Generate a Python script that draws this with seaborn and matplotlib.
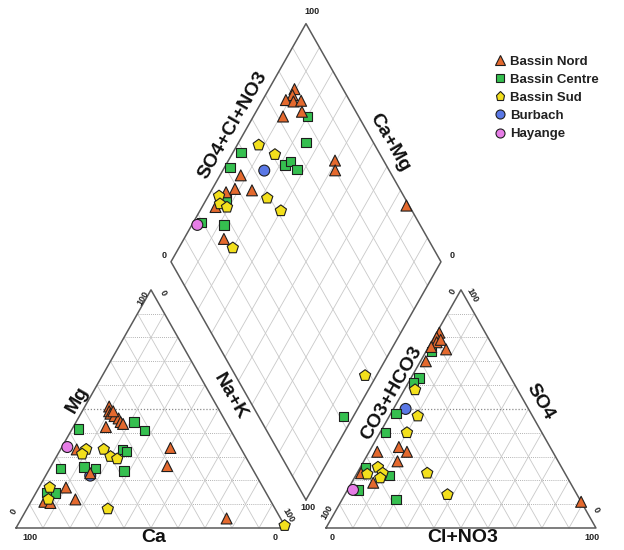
import numpy as np
import pandas as pd
import matplotlib
matplotlib.use("Agg")
import matplotlib.pyplot as plt
import seaborn as sns
from matplotlib.lines import Line2D

# ---------------- data (percent) ----------------
groups = ["Bassin Nord", "Bassin Centre", "Bassin Sud", "Burbach", "Hayange"]

# cation triangle: Ca and Mg (Na+K = 100 - Ca - Mg)
cat_group = (["Bassin Nord"] * 18 + ["Bassin Centre"] * 11 + ["Bassin Sud"] * 9
             + ["Burbach"] + ["Hayange"])
cat_ca = [40, 41, 41, 40, 39, 39, 38.5, 45.5, 39.5, 26, 31, 73, 72, 84, 82, 20, 61, 61,
          34, 32, 56, 44, 43, 71, 62, 58, 48, 81, 78,
          57.5, 60, 51, 50, 48, 79, 82, 62, 0,
          61.5,
          64]
cat_mg = [51, 49, 48, 47, 46, 44.5, 43.7, 42.4, 49, 33.6, 26, 17, 12, 11, 10.5, 4, 23, 33,
          44.5, 41, 41.5, 33, 32, 25, 25.6, 25, 24, 15, 14.7,
          33, 31, 33, 30, 29, 17, 12, 8, 1,
          22,
          34]

# anion triangle: Cl+NO3 and SO4 (CO3+HCO3 = 100 - Cl - SO4)
an_group = (["Bassin Nord"] * 14 + ["Bassin Centre"] * 9 + ["Bassin Sud"] * 9
            + ["Burbach"] + ["Hayange"])
an_cl = [1, 1, 2, 1, 7, 2, 3, 3, 10, 14, 12.5, 1.5, 8, 89,
         2, 3, 2, 2, 2, 2, 12.5, 4, 20,
         4, 10.5, 10, 6.5, 4, 9.5, 9.6, 26, 38,
         4.5,
         2]
an_so4 = [82, 80, 78, 76, 75, 70, 79, 32, 34, 32, 28, 23, 19, 11,
          74, 63, 61, 48, 40, 25.5, 22, 16, 12,
          58, 47, 40, 25.5, 22.6, 23, 21, 23, 14,
          50,
          16]

# diamond: SO4+Cl+NO3 and Ca+Mg
dia_group = (["Bassin Nord"] * 16 + ["Bassin Centre"] * 11 + ["Bassin Sud"] * 9
             + ["Burbach"] + ["Hayange"])
dia_anion = [82, 80, 76.5, 79, 82, 80, 72, 82, 80, 99, 44, 39, 45, 35, 28, 24.4,
             81, 75, 49, 41.6, 62.6, 65.4, 66, 33.5, 27.4, 19.6, 31.5,
             57, 61, 49, 51.4, 31.6, 30.3, 32.2, 25.8, 48,
             53.7,
             17.5]
dia_camg = [90.5, 90, 91.4, 88.3, 85.6, 83, 89, 60.5, 58.4, 24.6, 92.3, 91.6, 85, 94.2, 95, 85.2,
            80, 75, 97, 98, 78, 76.7, 72.8, 92.8, 88, 97, 3.5,
            92, 84, 77.7, 70, 96, 94, 90.7, 80, 4.2,
            84.6,
            98]

# ---------------- style ----------------
palette = {"Bassin Nord": "#E4692E", "Bassin Centre": "#35BF4F", "Bassin Sud": "#F3E01C",
           "Burbach": "#5A78E6", "Hayange": "#E67DE6"}
markers = {"Bassin Nord": "^", "Bassin Centre": "s", "Bassin Sud": "p",
           "Burbach": "o", "Hayange": "o"}
sizes = {"Bassin Nord": 62, "Bassin Centre": 46, "Bassin Sud": 72,
         "Burbach": 62, "Hayange": 62}
draw_order = ["Burbach", "Bassin Centre", "Bassin Nord", "Bassin Sud", "Hayange"]

sns.set_style("white")
plt.rcParams["font.family"] = ["Liberation Sans", "DejaVu Sans"]

H = np.sqrt(3) / 2
G = 0.148
D = 0.102


def cat_xy(ca, mg):
    ca = np.asarray(ca) / 100; mg = np.asarray(mg) / 100
    nak = 1 - ca - mg
    return nak + mg / 2, mg * H


def an_xy(cl, so4):
    cl = np.asarray(cl) / 100; so4 = np.asarray(so4) / 100
    return 1 + G + cl + so4 / 2, so4 * H


def dia_xy(a, m):
    a = np.asarray(a, dtype=float) / 100; m = np.asarray(m, dtype=float) / 100
    return 1 + G / 2 + 0.5 * (a - m), D + H * (a + m)


def P(px, py):
    return (px - 16) / 270, (528 - py) / 275


fig = plt.figure(figsize=(6.24, 5.5), dpi=100)
ax = fig.add_axes([0, 0, 1, 1])
ax.set_xlim((0 - 16) / 270, (624 - 16) / 270)
ax.set_ylim((528 - 550) / 275, 528 / 275)
ax.axis("off")

gcol = "#C9C9C9"
dcol = "#9A9A9A"
ocol = "#5A5A5A"


def tri_grid(x0):
    for k in range(1, 10):
        f = k / 10
        ax.plot([x0 + f / 2, x0 + 1 - f / 2], [f * H, f * H], ls=(0, (1, 1.5)),
                color=("#8A8A8A" if k == 5 else dcol), lw=(0.9 if k == 5 else 0.6), zorder=1)
        ax.plot([x0 + f, x0 + f + (1 - f) / 2], [0, (1 - f) * H], color=gcol, lw=0.6, zorder=1)
        ax.plot([x0 + f, x0 + f / 2], [0, f * H], color=gcol, lw=0.6, zorder=1)
    ax.plot([x0, x0 + 1, x0 + 0.5, x0], [0, 0, H, 0], color=ocol, lw=1.1, zorder=2)


tri_grid(0)
tri_grid(1 + G)
for k in range(1, 10):
    f = k * 10
    x, y = dia_xy([f, f], [0, 100]); ax.plot(x, y, color=gcol, lw=0.6, zorder=1)
    x, y = dia_xy([0, 100], [f, f]); ax.plot(x, y, color=gcol, lw=0.6, zorder=1)
x, y = dia_xy([0, 100, 100, 0, 0], [0, 0, 100, 100, 0])
ax.plot(x, y, color=ocol, lw=1.1, zorder=2)


def scatter(group, xs, ys):
    df = pd.DataFrame({"x": xs, "y": ys, "group": group})
    df["o"] = df["group"].map({g: i for i, g in enumerate(draw_order)})
    df = df.sort_values("o", kind="stable")
    sns.scatterplot(data=df, x="x", y="y", hue="group", style="group", size="group",
                    palette=palette, markers=markers, sizes=sizes, hue_order=groups,
                    style_order=groups, size_order=groups,
                    edgecolor="#1E1E1E", linewidth=0.8, legend=False, ax=ax, zorder=5)


scatter(cat_group, *cat_xy(cat_ca, cat_mg))
scatter(an_group, *an_xy(an_cl, an_so4))
scatter(dia_group, *dia_xy(dia_anion, dia_camg))
ax.set_xlabel(""); ax.set_ylabel("")
ax.set_xlim((0 - 16) / 270, (624 - 16) / 270)
ax.set_ylim((528 - 550) / 275, 528 / 275)

# axis titles
lab = dict(fontsize=14, fontweight="bold", ha="center", va="center", color="#111111")
ax.text(*P(77, 400), "Mg", rotation=60, **lab)
ax.text(*P(230, 397), "Na+K", rotation=-60, **lab)
ax.text(*P(154, 538), "Ca", **lab)
ax.text(*P(392, 393), "CO3+HCO3", rotation=60, **lab)
ax.text(*P(540, 402), "SO4", rotation=-60, **lab)
ax.text(*P(463, 538), "Cl+NO3", **lab)
ax.text(*P(233, 125), "SO4+Cl+NO3", rotation=60, **lab)
ax.text(*P(390, 143), "Ca+Mg", rotation=-60, **lab)

# tick labels
tk = dict(fontsize=6.5, fontweight="bold", ha="center", va="center", color="#222222")
ax.text(*P(30, 538), "100", **tk)
ax.text(*P(275, 537), "0", **tk)
ax.text(*P(14, 512), "0", rotation=60, **tk)
ax.text(*P(143, 298), "100", rotation=60, **tk)
ax.text(*P(163, 293), "0", rotation=-60, **tk)
ax.text(*P(288, 515), "100", rotation=-60, **tk)
ax.text(*P(332, 537), "0", **tk)
ax.text(*P(592, 537), "100", **tk)
ax.text(*P(327, 512), "100", rotation=60, **tk)
ax.text(*P(453, 292), "0", rotation=60, **tk)
ax.text(*P(472, 295), "100", rotation=-60, **tk)
ax.text(*P(596, 510), "0", rotation=-60, **tk)
ax.text(*P(312, 12), "100", **tk)
ax.text(*P(164, 256), "0", **tk)
ax.text(*P(452, 256), "0", **tk)
ax.text(*P(308, 508), "100", **tk)

# legend
handles = [Line2D([], [], ls="none", marker=markers[g], markersize=6.5 if g != "Bassin Centre" else 5.5,
                  markerfacecolor=palette[g], markeredgecolor="#1E1E1E", markeredgewidth=0.8,
                  label=g) for g in groups]
leg = ax.legend(handles=handles, loc="upper left", bbox_to_anchor=(488 / 624, 1 - 50 / 550),
                frameon=False, handletextpad=0.3, labelspacing=0.45, handlelength=1.0,
                borderaxespad=0, prop={"weight": "bold", "size": 9.5})
for t in leg.get_texts():
    t.set_color("#222222")

fig.savefig("out.png", dpi=100)
